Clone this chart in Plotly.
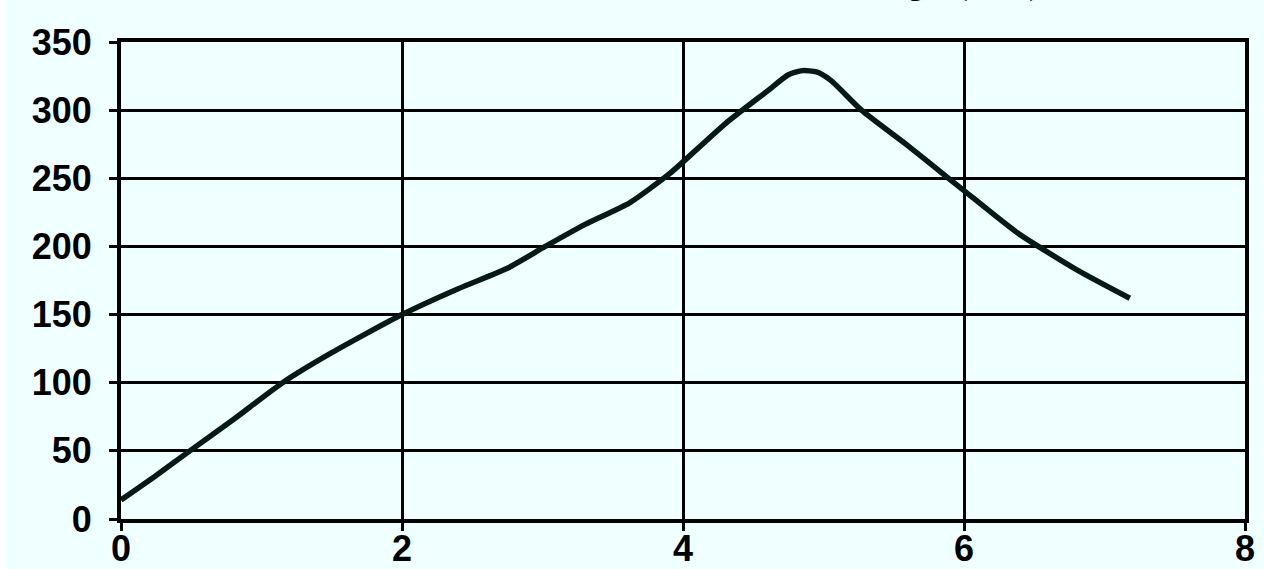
import plotly.graph_objects as go

# Data
x_vals = [0, 0.25, 0.49, 0.8, 1.15, 1.5, 2.0, 2.4, 2.75, 3.02, 3.3, 3.62, 3.9, 4.0,
          4.3, 4.6, 4.75, 4.85, 4.95, 5.05, 5.27, 5.6, 5.89, 6.0, 6.38, 6.8, 7.18]
y_vals = [14, 32, 50, 73, 100, 122, 150, 169, 184, 200, 216, 232, 253, 262,
          290, 314, 326, 329, 328, 322, 300, 274, 250, 241, 210, 183, 162]
x_ticks = [0, 2, 4, 6, 8]
y_ticks = [0, 50, 100, 150, 200, 250, 300, 350]
title_text = "Strength (MPa)"

W, H = 1264, 569
ml, mr, mt, mb = 121, 19, 42, 50
pw, ph = W - ml - mr, H - mt - mb

fig = go.Figure()
fig.add_trace(go.Scatter(
    x=x_vals, y=y_vals, mode="lines",
    line=dict(color="#061a15", width=5.5, shape="spline", smoothing=0.6),
    showlegend=False, hoverinfo="skip",
))

axis_common = dict(
    showline=True, linecolor="black", linewidth=4,
    showgrid=True, gridcolor="black", gridwidth=2.5,
    ticks="outside", ticklen=8, tickwidth=3, tickcolor="black",
    zeroline=False, mirror=True, automargin=False,
)

fig.update_layout(
    width=W, height=H,
    margin=dict(l=ml, r=mr, t=mt, b=mb, pad=0, autoexpand=False),
    paper_bgcolor="white",
    plot_bgcolor="#F0FFFF",
    xaxis=dict(range=[0, 8], tickvals=x_ticks, ticklabelstandoff=-13,
               tickfont=dict(family="Liberation Sans, Arial", size=36, color="black", weight="bold"),
               **axis_common),
    yaxis=dict(range=[0, 350], tickvals=y_ticks, ticklabelstandoff=10,
               tickfont=dict(family="Liberation Sans, Arial", size=36, color="black", weight="bold"),
               **axis_common),
    shapes=[dict(
        type="rect", xref="paper", yref="paper", layer="below",
        x0=(6 - ml) / pw, x1=(W - ml) / pw,
        y0=-mb / ph, y1=(H - mt - 5) / ph + 0.0,
        fillcolor="#F0FFFF", line=dict(width=0),
    )],
    annotations=[dict(
        text="<b>" + title_text + "</b>", xref="paper", yref="paper",
        x=(1040 - ml) / pw, y=(H - mb - 3) / ph,
        xanchor="right", yanchor="bottom", showarrow=False, borderpad=0,
        font=dict(family="Liberation Serif, Times New Roman", size=30, color="black"),
    )],
)

fig.write_html(
    "out.html",
    config={"displayModeBar": False},
    post_script="document.body.style.margin='0px';document.body.style.overflow='hidden';",
)
